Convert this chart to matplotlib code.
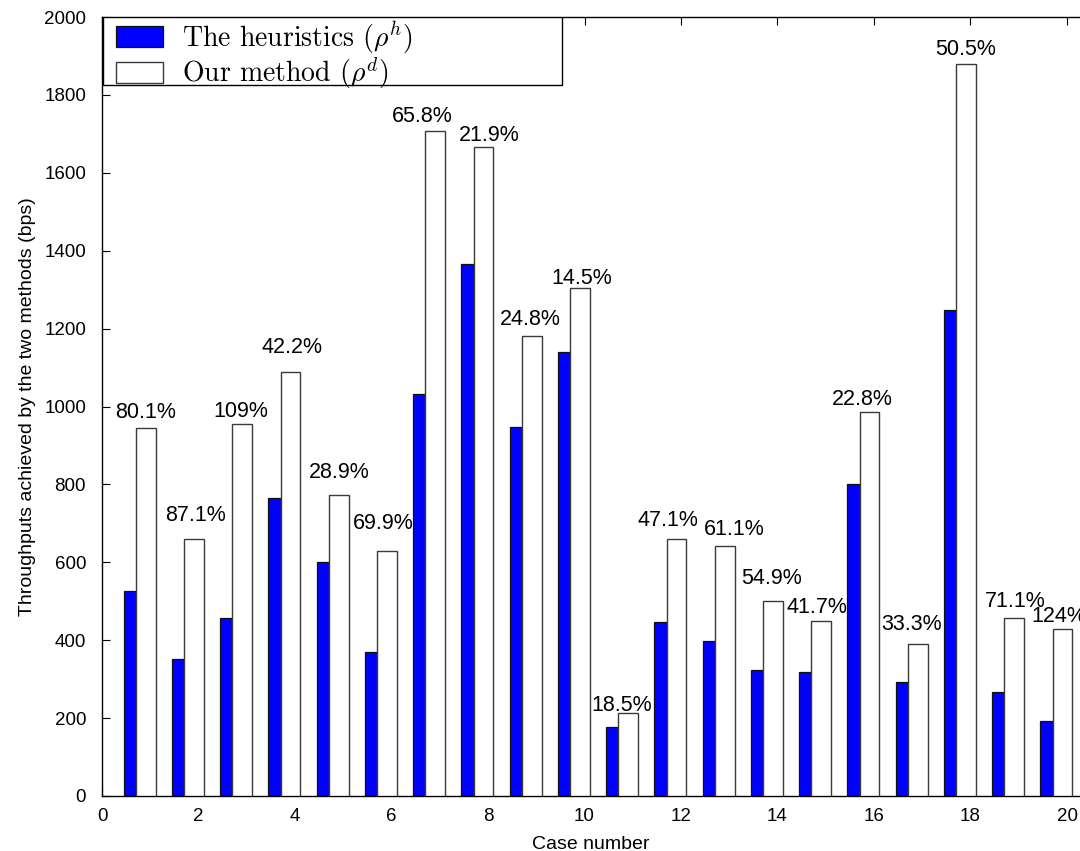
import numpy as np
import matplotlib
matplotlib.use("Agg")
import matplotlib.pyplot as plt
from matplotlib.patches import Rectangle

# ---- data ----
cases = list(range(1, 21))
heuristics = [526, 353, 456, 766, 600, 370, 1031, 1367, 948, 1139,
              178, 448, 398, 324, 318, 802, 292, 1249, 267, 192]
ours = [946, 660, 954, 1088, 773, 628, 1708, 1666, 1182, 1303,
        212, 659, 642, 501, 450, 985, 389, 1880, 457, 430]
gain_labels = ["80.1%", "87.1%", "109%", "42.2%", "28.9%", "69.9%", "65.8%",
               "21.9%", "24.8%", "14.5%", "18.5%", "47.1%", "61.1%", "54.9%",
               "41.7%", "22.8%", "33.3%", "50.5%", "71.1%", "124%"]
xticks = list(range(0, 21, 2))
yticks = list(range(0, 2001, 200))

# label placement tweaks (pixels)
label_dx = [0, 2, -1, 2, 1, -4, -13, 6, -1, 2, -6, -8, 10, -1, -4, -7, -6, 0, 1, -4]
label_dy = [10, 18, 7, 19, 17, 22, 9, 6, 11, 4, 2, 13, 11, 17, 8, 7, 14, 9, 11, 7]

plt.rcParams['font.family'] = ['Liberation Sans', 'DejaVu Sans']
plt.rcParams['mathtext.fontset'] = 'cm'

W, H = 1080, 851
fig = plt.figure(figsize=(W / 100, H / 100), dpi=100)
x0_px, unit_px = 102, 48.25
y0_px, ytop_px = 796, 17
xmax = (W - x0_px) / unit_px
ax_w_px = xmax * unit_px
ax_h_px = y0_px - ytop_px
ax = fig.add_axes([x0_px / W, (H - y0_px) / H, ax_w_px / W, ax_h_px / H])

x = np.array(cases, dtype=float)
ax.bar(x - 0.55, heuristics, width=0.25, align='edge', color='#0000ff',
       edgecolor='#101010', linewidth=0.9, label=r'The heuristics ($\rho^{h}$)', zorder=2)
ax.bar(x - 0.30, ours, width=0.41, align='edge', color='white',
       edgecolor='#3a3a3a', linewidth=1.0, label=r'Our method ($\rho^{d}$)', zorder=3)

centers = x - 0.30 + 0.205
for cx, v, s, dx, dy in zip(centers, ours, gain_labels, label_dx, label_dy):
    ax.annotate(s, (cx, v), xytext=(dx, dy), textcoords='offset pixels',
                ha='center', va='baseline', fontsize=15.5, color='black', zorder=5)

ax.set_xlim(0, xmax)
ax.set_ylim(0, 2000)
ax.set_xticks(xticks)
ax.set_yticks(yticks)
ax.tick_params(direction='in', length=6, width=0.8, labelsize=13.5,
               top=True, right=False)
ax.tick_params(axis='x', pad=8.5)
ax.tick_params(axis='y', pad=11.5)
for sp in ax.spines.values():
    sp.set_linewidth(1.0)
ax.spines['right'].set_visible(False)

ax.set_xlabel('Case number', fontsize=14, labelpad=8)
ax.set_ylabel('Throughputs achieved by the two methods (bps)', fontsize=14, labelpad=6)

# legend frame (drawn separately) spanning ~103..562 px horizontally, 17..85 px vertically
frame = Rectangle(((103 - x0_px) / ax_w_px, (y0_px - 85) / ax_h_px),
                  (562 - 103) / ax_w_px, (85 - ytop_px) / ax_h_px,
                  transform=ax.transAxes, facecolor='white', edgecolor='black',
                  linewidth=1.0, zorder=6)
ax.add_patch(frame)
leg = ax.legend(loc='upper left', bbox_to_anchor=((114 - x0_px) / ax_w_px, 1.0),
                borderaxespad=0.0,
                prop={'family': 'cmr10', 'size': 20}, frameon=False,
                handlelength=1.7, handleheight=0.78,
                handletextpad=0.65, borderpad=0.08, labelspacing=0.0)
leg.set_zorder(7)

fig.savefig('out.png', dpi=100)
